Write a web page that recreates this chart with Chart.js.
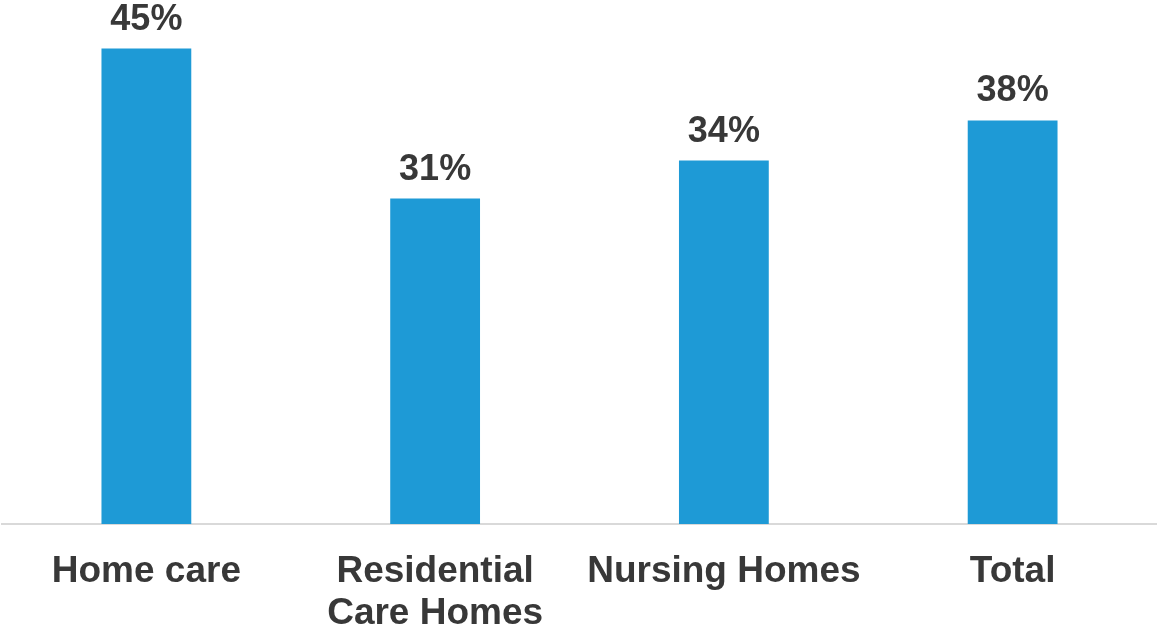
<!DOCTYPE html>
<html>
<head>
<meta charset="utf-8">
<script src="https://cdn.jsdelivr.net/npm/chart.js@4.4.1/dist/chart.umd.min.js"></script>
<style>
  html, body { margin: 0; padding: 0; background: #fff; }
  canvas { display: block; }
</style>
</head>
<body>
<canvas id="chart" width="1157" height="629"></canvas>
<script>
// categories and values (percent)
var categories = ["Home care", ["Residential", "Care Homes"], "Nursing Homes", "Total"];
var shares = [45.0, 30.8, 34.4, 38.2];

var barColor = "#1e9ad6";
var textColor = "#383838";
var fontFamily = "'Liberation Sans', Arial, sans-serif";

// draws the percentage above each bar
var valueLabels = {
  id: 'valueLabels',
  afterDatasetsDraw: function(chart) {
    var ctx = chart.ctx;
    var meta = chart.getDatasetMeta(0);
    ctx.save();
    ctx.font = "bold 36px " + fontFamily;
    ctx.fillStyle = textColor;
    ctx.textAlign = "center";
    ctx.textBaseline = "alphabetic";
    meta.data.forEach(function(bar, i) {
      ctx.fillText(Math.round(shares[i]) + "%", bar.x, bar.y - 19);
    });
    ctx.restore();
  }
};

var ctx = document.getElementById("chart").getContext("2d");
var myChart = new Chart(ctx, {
  type: 'bar',
  data: {
    labels: categories,
    datasets: [{
      data: shares,
      backgroundColor: barColor,
      borderWidth: 0,
      categoryPercentage: 1,
      barPercentage: 0.311
    }]
  },
  options: {
    responsive: false,
    animation: false,
    layout: { padding: { left: 2, right: 0, top: 0, bottom: 0 } },
    plugins: {
      legend: { display: false },
      tooltip: { enabled: false }
    },
    scales: {
      x: {
        grid: { display: false, drawTicks: false },
        border: { display: true, color: "#d9d9d9", width: 2 },
        ticks: {
          color: textColor,
          padding: 27,
          maxRotation: 0,
          autoSkip: false,
          font: { family: fontFamily, size: 37, weight: 'bold', lineHeight: 1.135 }
        },
        afterFit: function(scale) { scale.height = 105; }
      },
      y: {
        display: false,
        min: 0,
        max: 49.6
      }
    }
  },
  plugins: [valueLabels]
});
</script>
</body>
</html>
